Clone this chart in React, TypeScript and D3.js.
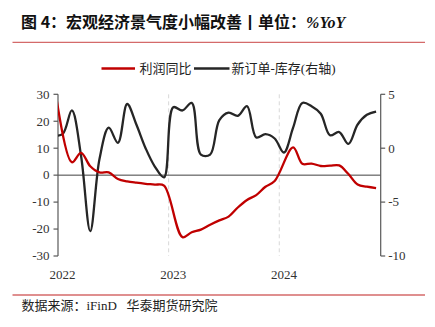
import React from "react";
import * as d3 from "d3";

const months = [
  "2021-12",
  "2022-01","2022-02","2022-03","2022-04","2022-05","2022-06","2022-07","2022-08","2022-09","2022-10","2022-11","2022-12",
  "2023-01","2023-02","2023-03","2023-04","2023-05","2023-06","2023-07","2023-08","2023-09","2023-10","2023-11","2023-12",
  "2024-01","2024-02","2024-03","2024-04","2024-05","2024-06","2024-07","2024-08","2024-09","2024-10","2024-11",
];

const profitYoY: (number | null)[] = [
  36.5,
  null, 4.8, 8.3, 3.3, 1.0, 1.0, -1.4, -2.3, -2.8, -3.2, -3.5, -3.9,
  null, -23.0, -21.2, -20.2, -18.4, -16.8, -15.4, -12.0, -9.2, -7.4, -4.3, -2.2,
  null, 10.3, 4.2, 4.3, 3.4, 3.5, 3.6, 0.4, -3.5, -4.3, -4.8,
];

const ordersMinusInventory: number[] = [
  1.2,
  1.3, 3.5, -0.7, -7.7, -1.0, 1.9, 0.5, 4.1, 2.2, 0.0, -1.7, -2.7,
  3.8, 3.5, 4.2, -0.6, -0.6, 2.6, 3.3, 3.0, 3.9, 1.0, 1.3, 0.9,
  -0.4, 1.9, 4.2, 3.9, 3.2, 1.2, 1.5, 0.4, 2.2, 3.1, 3.4,
];

const leftTicks = [30, 20, 10, 0, -10, -20, -30];
const rightTicks = [5, 0, -5, -10];
const yearLabels = ["2022", "2023", "2024"];

const seriesNames = ["利润同比", "新订单-库存(右轴)"];
const titleMain = "图 4：宏观经济景气度小幅改善丨单位：";
const titleUnit = "%YoY";
const sourceText = "数据来源：iFinD   华泰期货研究院";

const W = 435;
const H = 327;
const plot = { left: 58, right: 380.7, top: 94.3, bottom: 256 };

const RED = "#c00000";
const BLACK = "#262626";
const AXIS = "#595959";
const SERIF = "'Liberation Serif','Times New Roman','Noto Sans CJK SC',serif";
const CJK = "'Liberation Serif','Noto Sans CJK SC',sans-serif";

function monthIndex(m: string) {
  const [y, mo] = m.split("-").map(Number);
  return (y - 2022) * 12 + (mo - 1);
}

export default function App() {
  const x = d3.scaleLinear().domain([0, 35]).range([plot.left, plot.right]);
  const yL = d3.scaleLinear().domain([-30, 30]).range([plot.bottom, plot.top]);
  const yR = d3.scaleLinear().domain([-10, 5]).range([plot.bottom, plot.top]);

  const redPts = months
    .map((m, i) => ({ m, v: profitYoY[i] }))
    .filter((d) => d.v !== null) as { m: string; v: number }[];
  const blackPts = months.map((m, i) => ({ m, v: ordersMinusInventory[i] }));

  const lineL = d3
    .line<{ m: string; v: number }>()
    .x((d) => x(monthIndex(d.m) + 0.5))
    .y((d) => yL(d.v))
    .curve(d3.curveCatmullRom.alpha(0.5));
  const lineR = d3
    .line<{ m: string; v: number }>()
    .x((d) => x(monthIndex(d.m) + 0.5))
    .y((d) => yR(d.v))
    .curve(d3.curveCatmullRom.alpha(0.5));

  const legendY = 68.5;

  return (
    <svg
      width={W}
      height={H}
      viewBox={`0 0 ${W} ${H}`}
      style={{ position: "absolute", left: 0, top: 0, background: "#fff" }}
    >
      <defs>
        <clipPath id="plotClip">
          <rect x={plot.left} y={0} width={plot.right - plot.left} height={H} />
        </clipPath>
      </defs>

      {/* Title */}
      <text x={21} y={27.5} fontSize={16} fontWeight="bold" fill="#111" fontFamily="'Noto Sans CJK SC',sans-serif">
        {titleMain}
        <tspan fontFamily={SERIF} fontStyle="italic" fontWeight="bold">{titleUnit}</tspan>
      </text>
      <line x1={12.5} x2={425} y1={42.3} y2={42.3} stroke="#d46a6a" strokeWidth={1.3} />

      {/* Legend */}
      <line x1={101.5} x2={135} y1={legendY} y2={legendY} stroke={RED} strokeWidth={2.6} />
      <text x={139.5} y={legendY + 4.5} fontSize={13} fill="#222" fontFamily={CJK}>{seriesNames[0]}</text>
      <line x1={194} x2={229.5} y1={legendY} y2={legendY} stroke={BLACK} strokeWidth={2.6} />
      <text x={231.5} y={legendY + 4.5} fontSize={13} fill="#222" fontFamily={CJK}>{seriesNames[1]}</text>

      {/* Year gridlines */}
      {yearLabels.slice(1).map((yr) => {
        const xi = x(monthIndex(`${yr}-01`));
        return (
          <line key={yr} x1={xi} x2={xi} y1={plot.top} y2={plot.bottom} stroke="#d9d9d9" strokeWidth={1} strokeDasharray="4,3" />
        );
      })}

      {/* Zero line */}
      <line x1={plot.left} x2={plot.right} y1={yL(0)} y2={yL(0)} stroke="#404040" strokeWidth={1} />

      {/* Left axis */}
      <line x1={plot.left} x2={plot.left} y1={plot.top} y2={plot.bottom} stroke={AXIS} strokeWidth={1.2} />
      {leftTicks.map((t) => (
        <g key={t}>
          <line x1={plot.left - 4.5} x2={plot.left} y1={yL(t)} y2={yL(t)} stroke={AXIS} strokeWidth={1.2} />
          <text x={plot.left - 8.5} y={yL(t) + 4.3} fontSize={13} textAnchor="end" fill="#333" fontFamily={SERIF}>{t}</text>
        </g>
      ))}

      {/* Right axis */}
      <line x1={plot.right} x2={plot.right} y1={plot.top} y2={plot.bottom} stroke={AXIS} strokeWidth={1.2} />
      {rightTicks.map((t) => (
        <g key={t}>
          <line x1={plot.right} x2={plot.right + 4.5} y1={yR(t)} y2={yR(t)} stroke={AXIS} strokeWidth={1.2} />
          <text x={plot.right + 7.5} y={yR(t) + 4.3} fontSize={13} textAnchor="start" fill="#333" fontFamily={SERIF}>{t}</text>
        </g>
      ))}

      {/* Year labels */}
      {yearLabels.map((yr) => (
        <text key={yr} x={x(monthIndex(`${yr}-01`) + 0.5)} y={278.5} fontSize={13} textAnchor="middle" fill="#333" fontFamily={SERIF}>{yr}</text>
      ))}

      {/* Series */}
      <g clipPath="url(#plotClip)">
        <path d={lineR(blackPts) || ""} fill="none" stroke={BLACK} strokeWidth={2.3} strokeLinejoin="round" />
        <path d={lineL(redPts) || ""} fill="none" stroke={RED} strokeWidth={2.3} strokeLinejoin="round" />
      </g>

      {/* Footer */}
      <line x1={12.5} x2={425} y1={295} y2={295} stroke="#d46a6a" strokeWidth={1.3} />
      <text x={21.5} y={309.5} fontSize={13} fill="#222" fontFamily={CJK} style={{ whiteSpace: "pre" }}>{sourceText}</text>
    </svg>
  );
}
